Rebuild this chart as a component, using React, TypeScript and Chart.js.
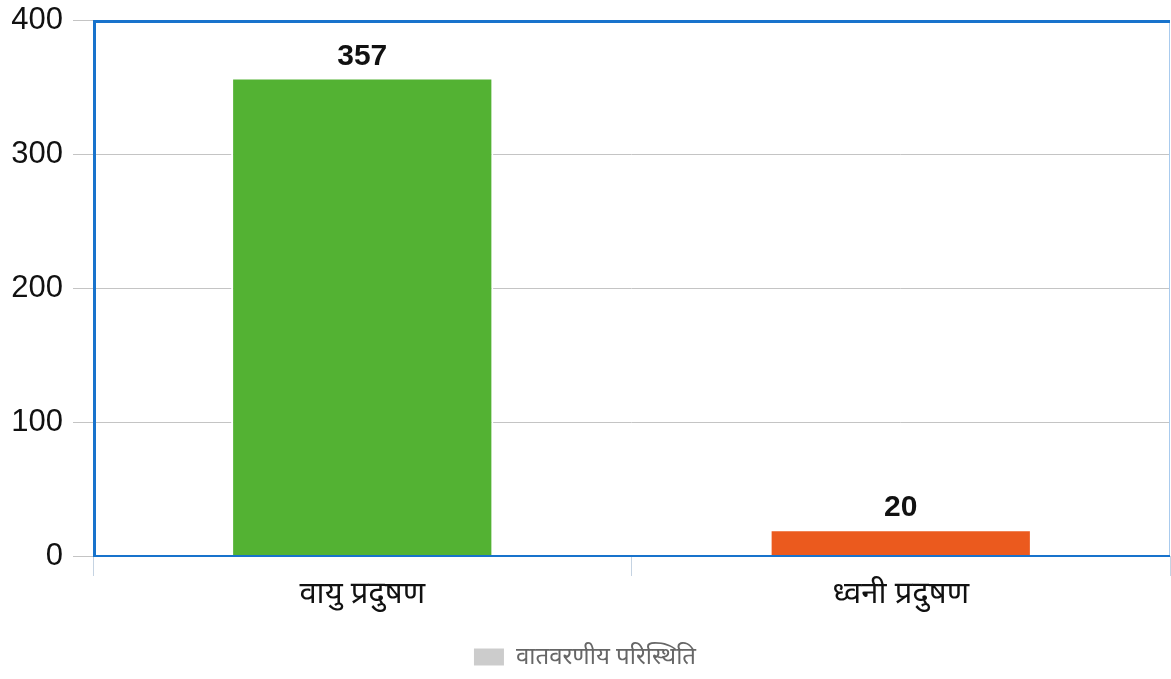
import React, { useEffect, useRef } from "react";
import { Chart, registerables } from "chart.js";

Chart.register(...registerables);

const categories = ["वायु प्रदुषण", "ध्वनी प्रदुषण"];
const values = [357, 20];
const barColors = ["#53b233", "#eb5a1e"];
const seriesLabel = "वातवरणीय परिस्थिति";
const yTicks = [0, 100, 200, 300, 400];

const FRAME = "#1873cc";

const framePlugin = {
  id: "frame",
  afterDatasetsDraw(chart: any) {
    const { ctx, chartArea } = chart;
    const { left, right, top, bottom } = chartArea;
    ctx.save();
    ctx.strokeStyle = "#a9cbee";
    ctx.lineWidth = 1;
    ctx.beginPath();
    ctx.moveTo(right - 0.5, top);
    ctx.lineTo(right - 0.5, bottom);
    ctx.stroke();
    ctx.strokeStyle = FRAME;
    ctx.lineWidth = 2;
    ctx.beginPath();
    ctx.moveTo(left, bottom);
    ctx.lineTo(right, bottom);
    ctx.stroke();
    ctx.lineWidth = 3;
    ctx.beginPath();
    ctx.moveTo(left + 1.5, bottom);
    ctx.lineTo(left + 1.5, top + 1.5);
    ctx.lineTo(right, top + 1.5);
    ctx.stroke();
    ctx.restore();
  },
};

const valueLabelPlugin = {
  id: "valueLabels",
  afterDatasetsDraw(chart: any) {
    const { ctx } = chart;
    const meta = chart.getDatasetMeta(0);
    ctx.save();
    ctx.font = "bold 30px 'Liberation Sans', Arial, sans-serif";
    ctx.fillStyle = "#111111";
    ctx.textAlign = "center";
    ctx.textBaseline = "alphabetic";
    meta.data.forEach((bar: any, i: number) => {
      ctx.fillText(String(values[i]), bar.x, bar.y - 13);
    });
    ctx.restore();
  },
};

export default function App() {
  const ref = useRef<HTMLCanvasElement>(null);

  useEffect(() => {
    if (!ref.current) return;
    const chart = new Chart(ref.current, {
      type: "bar",
      data: {
        labels: categories,
        datasets: [
          {
            label: seriesLabel,
            data: values,
            backgroundColor: barColors,
            borderColor: "#ffffff",
            borderWidth: 2,
            borderSkipped: "bottom",
            categoryPercentage: 1,
            barPercentage: 0.487,
          },
        ],
      },
      options: {
        animation: false,
        responsive: true,
        maintainAspectRatio: false,
        layout: { padding: { top: 20, left: 0, right: 1, bottom: 0 } },
        plugins: {
          tooltip: { enabled: false },
          legend: {
            position: "bottom",
            labels: {
              boxWidth: 30,
              boxHeight: 17,
              padding: 6,
              color: "#666666",
              font: { size: 24, family: "'Noto Sans', sans-serif" },
              generateLabels: () => [
                {
                  text: seriesLabel,
                  fillStyle: "#cccccc",
                  strokeStyle: "#cccccc",
                  lineWidth: 0,
                  hidden: false,
                  datasetIndex: 0,
                  fontColor: "#666666",
                },
              ],
            },
          },
        },
        scales: {
          x: {
            offset: true,
            grid: {
              offset: true,
              drawOnChartArea: false,
              drawTicks: true,
              tickLength: 20,
              color: "#c5d3e2",
            },
            border: { display: false },
            ticks: {
              color: "#111111",
              padding: 0,
              font: { size: 31, family: "'Noto Sans', sans-serif" },
            },
            afterFit: (scale: any) => {
              scale.height = 83;
              scale.paddingLeft = 0;
              scale.paddingRight = 0;
            },
          },
          y: {
            min: 0,
            max: 400,
            afterBuildTicks: (scale: any) => {
              scale.ticks = yTicks.map((v) => ({ value: v }));
            },
            grid: {
              color: "#c4c4c4",
              lineWidth: 1,
              tickLength: 20,
            },
            border: { display: false },
            ticks: {
              color: "#111111",
              padding: 10,
              font: { size: 31, family: "'Liberation Sans', Arial, sans-serif" },
            },
            afterFit: (scale: any) => {
              scale.width = 93;
              scale.paddingTop = 0;
              scale.paddingBottom = 0;
            },
          },
        },
      },
      plugins: [framePlugin, valueLabelPlugin],
    });
    return () => chart.destroy();
  }, []);

  return (
    <div style={{ position: "fixed", left: 0, top: 0, width: 1171, height: 679, background: "#fff" }}>
      <canvas ref={ref} />
    </div>
  );
}
